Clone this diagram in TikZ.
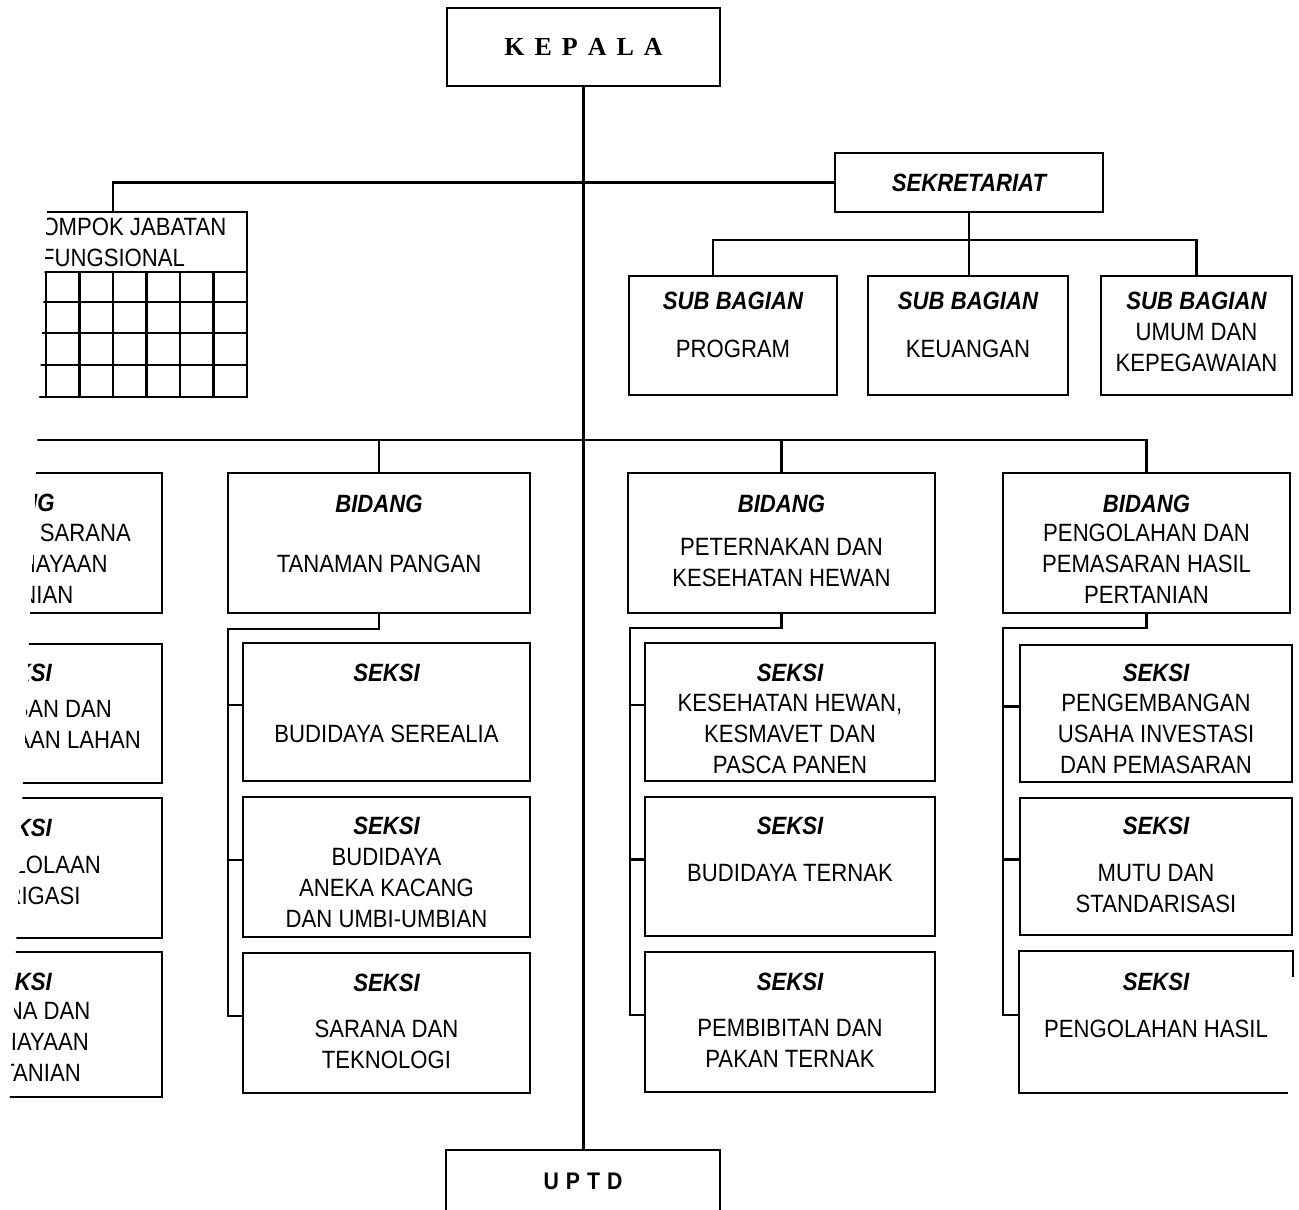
\documentclass[tikz,border=0pt]{standalone}
\usepackage{fontspec}
\setmainfont{Liberation Sans}[FakeStretch=0.885]
\newfontfamily\titleserif{Liberation Serif}
\usetikzlibrary{fit}

\tikzset{
  box/.style={draw, line width=2.4pt, inner sep=0pt},
  wire/.style={line width=2.4pt},
  hdr/.style={inner sep=0pt, font=\fontsize{25}{31}\selectfont\bfseries\itshape},
  txt/.style={inner sep=0pt, align=center, font=\fontsize{25}{31}\selectfont},
}

% one organisational unit: [box options]{name}{corner}{corner}{title offset}{title}{body offset}{body}
\newcommand\orgunit[8][]{%
  \node[box,#1,fit={#3 #4}] (#2) {};
  \node[hdr] (#2-h) at ([yshift=-#5pt]#2.north) {#6};
  \node[txt] (#2-b) at ([yshift=-#7pt]#2.north) {#8};
}

\begin{document}
\begin{tikzpicture}[x=1pt,y=-1pt]
\path[use as bounding box, fill=white] (0,0) rectangle (1299,1210);
\clip (56,0) -- (1299,0) -- (1299,1210) -- (5,1210) -- cycle;

% head and technical unit
\node[box, fit={(447,8) (720,86)}] (kepala) {};
\node[inner sep=0pt, font=\titleserif\bfseries\fontsize{26}{30}\selectfont] (kepala-t) at (kepala)
  {K\kern10pt E\kern10pt P\kern10pt A\kern10pt L\kern10pt A};
\node[box, fit={(446,1150) (720,1240)}] (uptd) {};
\node[inner sep=0pt, font=\bfseries\fontsize{24}{28}\selectfont] (uptd-t) at (583,1181)
  {U\kern7pt P\kern7pt T\kern7pt D};
\draw[wire] (kepala.south) -- (kepala.south |- uptd.north);

% secretariat and functional group
\node[box, fit={(835,153) (1103,212)}] (sek) {};
\node[hdr] (sek-t) at (sek) {SEKRETARIAT};

\node[box, fit={(-21,212) (247,397)}] (kjf) {};
\node[txt] (kjf-t) at (113,242) {KELOMPOK JABATAN\\FUNGSIONAL};
\foreach \r in {272,302,333,365}
  \draw[wire] (-21,\r) -- (247,\r);
\foreach \c in {1,...,7}
  \draw[wire] ({-21+33.5*\c},272) -- ({-21+33.5*\c},397);
\draw[wire] (sek.west) -| (kjf.north);

% sub-sections of the secretariat
\orgunit{prog}{(629,276)}{(837,395)}{26}{SUB BAGIAN}{74}{PROGRAM}
\orgunit{keu}{(868,276)}{(1068,395)}{26}{SUB BAGIAN}{74}{KEUANGAN}
\orgunit{umum}{(1101,276)}{(1292,395)}{26}{SUB BAGIAN}{73}{UMUM DAN\\KEPEGAWAIAN}
\draw[wire] (sek.south) -- (sek.south |- keu.north);
\coordinate (sbus) at (713,240);
\draw[wire] (prog.north -| sbus) -- (sbus) -| (umum.north);

% divisions
\orgunit{b1}{(-140,473)}{(162,613)}{31}{BIDANG}{92}{PRASARANA, SARANA\\DAN PEMBIAYAAN\\PERTANIAN}
\orgunit{b2}{(228,473)}{(530,613)}{32}{BIDANG}{92}{TANAMAN PANGAN}
\orgunit{b3}{(628,473)}{(935,613)}{32}{BIDANG}{91}{PETERNAKAN DAN\\KESEHATAN HEWAN}
\orgunit{b4}{(1003,473)}{(1290,613)}{32}{BIDANG}{92}{PENGOLAHAN DAN\\PEMASARAN HASIL\\PERTANIAN}
\path (b1.north) ++(0,-32) coordinate (bbus);
\draw[wire] (b1.north) -- (bbus) -| (b4.north);
\draw[wire] (bbus -| b2.north) -- (b2.north);
\draw[wire] (bbus -| b3.north) -- (b3.north);

% sections
\orgunit{s11}{(-125,644)}{(162,783)}{30}{SEKSI}{81.5}{PERLUASAN DAN\\PENGELOLAAN LAHAN}
\orgunit{s12}{(-125,798)}{(162,938)}{31}{SEKSI}{83.5}{PENGELOLAAN\\AIR IRIGASI}
\orgunit{s13}{(-125,952)}{(162,1097)}{31}{SEKSI}{91}{SARANA DAN\\PEMBIAYAAN\\PERTANIAN}

\orgunit{s21}{(243,643)}{(530,781)}{31}{SEKSI}{92}{BUDIDAYA SEREALIA}
\orgunit{s22}{(243,797)}{(530,937)}{30}{SEKSI}{92.5}{BUDIDAYA\\ANEKA KACANG\\DAN UMBI-UMBIAN}
\orgunit{s23}{(243,953)}{(530,1093)}{31}{SEKSI}{92.5}{SARANA DAN\\TEKNOLOGI}

\orgunit{s31}{(645,643)}{(935,781)}{31}{SEKSI}{92}{KESEHATAN HEWAN,\\KESMAVET DAN\\PASCA PANEN}
\orgunit{s32}{(645,797)}{(935,936)}{30}{SEKSI}{77}{BUDIDAYA TERNAK}
\orgunit{s33}{(645,952)}{(935,1092)}{31}{SEKSI}{93}{PEMBIBITAN DAN\\PAKAN TERNAK}

\orgunit{s41}{(1020,645)}{(1292,782)}{29}{SEKSI}{90.5}{PENGEMBANGAN\\USAHA INVESTASI\\DAN PEMASARAN}
\orgunit{s42}{(1020,798)}{(1292,935)}{29}{SEKSI}{91.5}{MUTU DAN\\STANDARISASI}
\orgunit[draw=none]{s43}{(1020,952)}{(1292,1092)}{31}{SEKSI}{78}{PENGOLAHAN HASIL}
\draw[wire] ([yshift=-26pt]s43.north east) -- (s43.north east) -- (s43.north west)
  -- (s43.south west) -- ([xshift=-5pt]s43.south east);

% section connectors: spine from each division down the left side
\coordinate (k1) at (-140,629);
\coordinate (k2) at (228,629);
\coordinate (k3) at (630,628);
\coordinate (k4) at (1003,628);
\foreach \b/\k/\s in {b1/k1/s1, b2/k2/s2, b3/k3/s3, b4/k4/s4} {
  \draw[wire] (\b.south) |- (\k) |- ([yshift=7pt]\s3.west);
  \draw[wire] ([yshift=7pt]\s1.west) -| (\k);
  \draw[wire] ([yshift=7pt]\s2.west) -| (\k);
}
\end{tikzpicture}
\end{document}
